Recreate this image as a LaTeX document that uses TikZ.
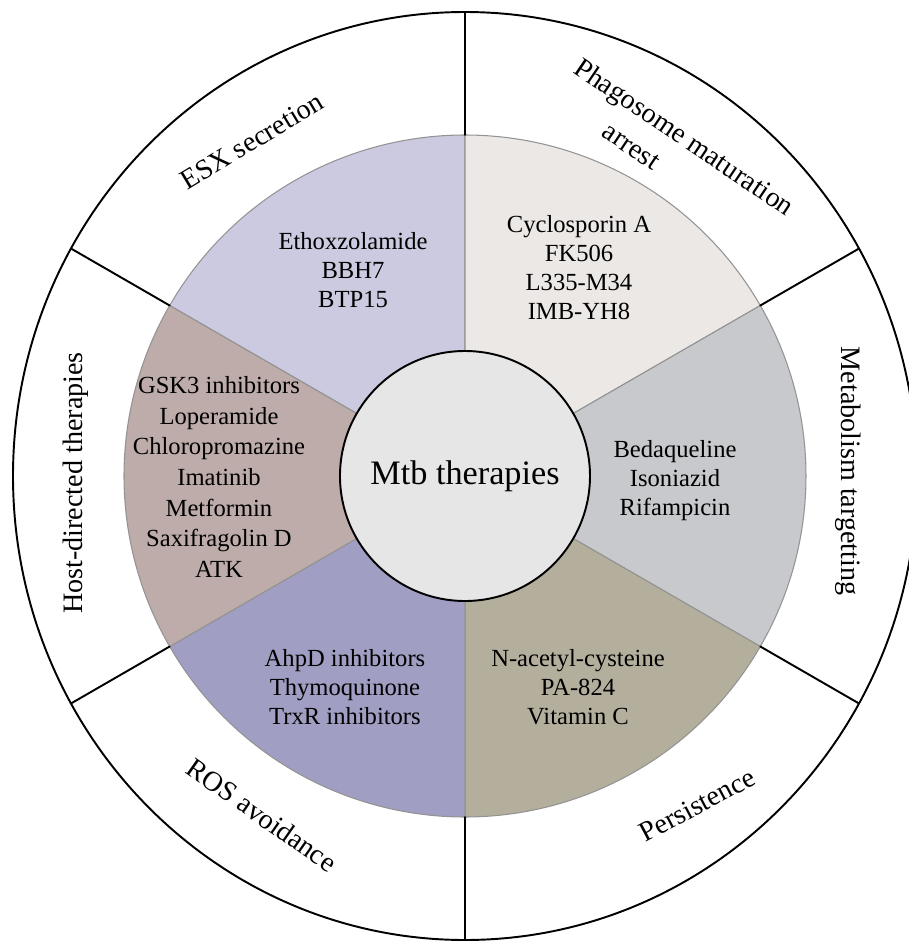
\documentclass[tikz,border=0pt]{standalone}
\usepackage{fontspec}
\setmainfont{Liberation Serif}
\definecolor{esxcol}{HTML}{CBCAE0}
\definecolor{phagocol}{HTML}{ECE8E6}
\definecolor{metabcol}{HTML}{C8C9CC}
\definecolor{persistcol}{HTML}{B3AF9C}
\definecolor{roscol}{HTML}{A09FC3}
\definecolor{hostcol}{HTML}{BDACA9}
\definecolor{centercol}{HTML}{E6E6E6}

\begin{document}
\begin{tikzpicture}[line cap=round,line join=round,x=0.02cm,y=0.02cm,
    sector/.style={draw=gray!85, line width=0.6pt},
    druglist/.style={align=center, font=\fontsize{14}{16.5}\selectfont},
    ringlabel/.style={font=\fontsize{16}{19}\selectfont}]
    \useasboundingbox (-465,-465) rectangle (444,476);

    % coloured sectors
    \filldraw[sector, fill=esxcol] (0,0) -- (90:341) arc (90:150:341) -- cycle;
    \filldraw[sector, fill=phagocol] (0,0) -- (30:341) arc (30:90:341) -- cycle;
    \filldraw[sector, fill=metabcol] (0,0) -- (-30:341) arc (-30:30:341) -- cycle;
    \filldraw[sector, fill=persistcol] (0,0) -- (-90:341) arc (-90:-30:341) -- cycle;
    \filldraw[sector, fill=roscol] (0,0) -- (-150:341) arc (-150:-90:341) -- cycle;
    \filldraw[sector, fill=hostcol] (0,0) -- (150:341) arc (150:210:341) -- cycle;

    % outer ring
    \draw[line width=1.1pt] (0,0) ellipse (452 and 464);
    \begin{scope}
        \clip (0,0) ellipse (452 and 464);
        \foreach \ang in {30,90,150,210,270,330} {
                \draw[line width=1.1pt] (\ang:341) -- (\ang:520);
            }
    \end{scope}

    % centre
    \draw (0,0) node[circle, draw=black, line width=1.1pt, fill=centercol, minimum size=250*0.02cm, font=\fontsize{19.5}{23}\selectfont] (mtb) {Mtb therapies};

    % ring labels
    \draw (-213,335) node[ringlabel, rotate=31] (esx) {ESX secretion};
    \draw (218,337) node[ringlabel, rotate=-34] (phago) {Phagosome maturation};
    \draw (166,329) node[ringlabel, rotate=-34] (phagob) {arrest};
    \draw (383,5) node[ringlabel, rotate=-90] (metab) {Metabolism targetting};
    \draw (232,-329) node[ringlabel, rotate=28] (persist) {Persistence};
    \draw (-203,-339) node[ringlabel, rotate=-35] (ros) {ROS avoidance};
    \draw (-389,-7) node[ringlabel, rotate=90] (host) {Host-directed therapies};

    % drug lists
    \draw (-112,206) node[druglist] (esxdrugs) {Ethoxzolamide\\BBH7\\BTP15};
    \draw (114,208) node[druglist] (phagodrugs) {Cyclosporin A\\FK506\\L335-M34\\IMB-YH8};
    \draw (210,-5) node[druglist] (metabdrugs) {Bedaqueline\\Isoniazid\\Rifampicin};
    \draw (113,-211) node[druglist] (persistdrugs) {N-acetyl-cysteine\\PA-824\\Vitamin C};
    \draw (-120,-211) node[druglist] (rosdrugs) {AhpD inhibitors\\Thymoquinone\\TrxR inhibitors};
    \draw (-246,-1) node[druglist, font=\fontsize{14}{17.4}\selectfont] (hostdrugs) {GSK3 inhibitors\\Loperamide\\Chloropromazine\\Imatinib\\Metformin\\Saxifragolin D\\ATK};

\end{tikzpicture}
\end{document}
